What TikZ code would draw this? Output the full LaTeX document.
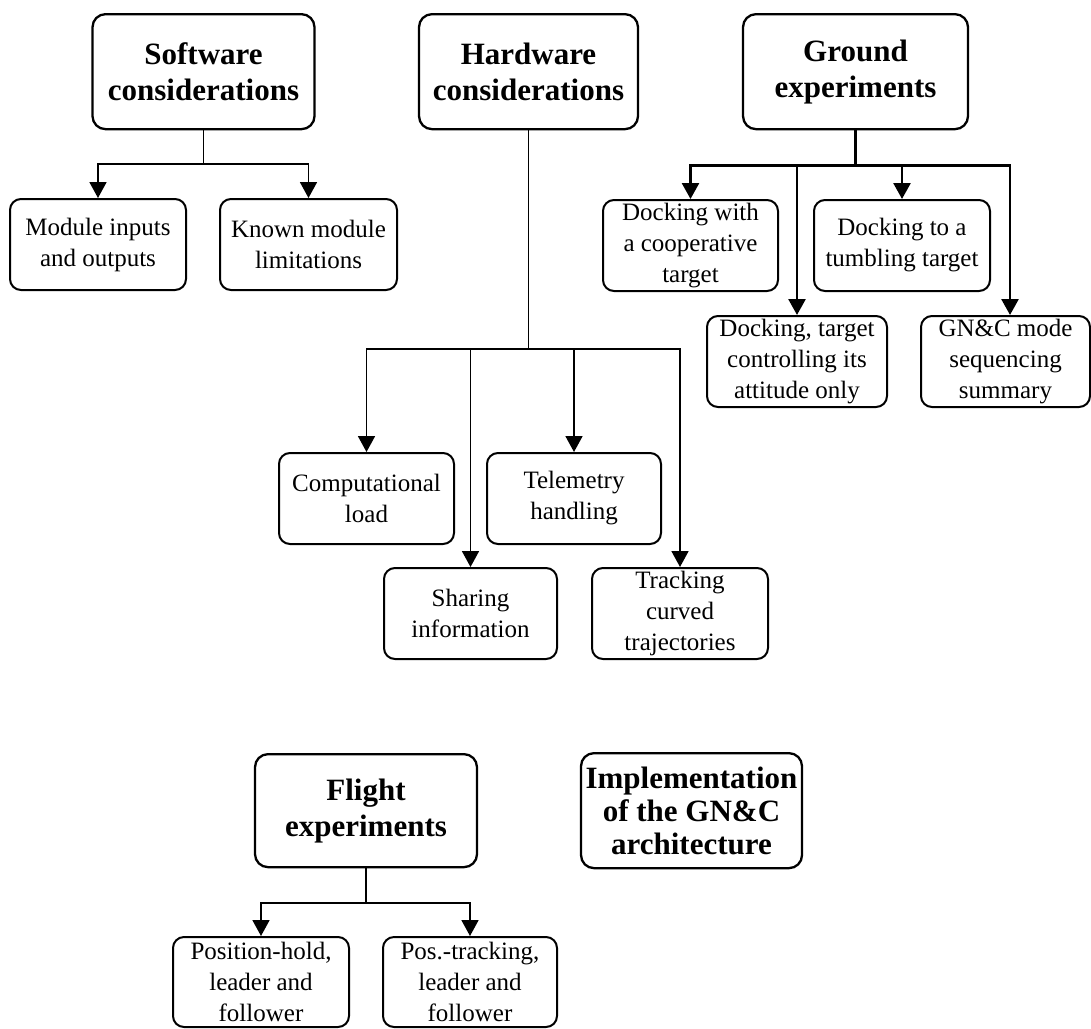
\documentclass[tikz,border=0pt]{standalone}
\usepackage{fontspec}
\setmainfont{Liberation Serif}
\usepackage{tikz}
\usetikzlibrary{positioning,arrows.meta}
\tikzstyle{head}=[rectangle, rounded corners=13pt, draw=black, line width=2.3pt, text centered, anchor=north, text=black, minimum width=222pt, minimum height=115pt, inner sep=2pt, align=center, font=\bfseries\fontsize{31}{36}\selectfont]
\tikzstyle{item}=[rectangle, rounded corners=11pt, draw=black, line width=2pt, text centered, anchor=north, text=black, minimum width=175pt, minimum height=91pt, inner sep=2pt, align=center, font=\fontsize{25}{31}\selectfont]
\tikzstyle{link}=[draw=black, line width=1.8pt, -{Triangle[length=16pt,width=17pt]}]

\begin{document}
\begin{tikzpicture}[x=1pt,y=1pt]
        \useasboundingbox (0,0) rectangle (1091,-1028);
        % top row
        \node(sw)[head] at (203.5,-13) {
            Software\\considerations
        };
        \node(hw)[head, minimum width=219pt] at (528.5,-13) {
            Hardware\\considerations
        };
        \node(gr)[head, minimum width=225pt] at (855.5,-13) {
            Ground\\experiments
        };
        % software
        \node(mod)[item, minimum width=176pt] at (98,-198) {
            Module inputs\\and outputs
        };
        \node(lim)[item, minimum width=177pt] at (308.5,-198) {
            Known module\\limitations
        };
        % ground
        \node(coop)[item] at (690.5,-199) {
            Docking with\\a cooperative\\target
        };
        \node(tumb)[item, minimum width=176pt] at (902,-199) {
            Docking to a\\tumbling target
        };
        \node(att)[item, minimum width=180pt] at (797,-315) {
            Docking, target\\controlling its\\attitude only
        };
        \node(seq)[item, minimum width=169pt] at (1005.5,-315) {
            GN\&C mode\\sequencing\\summary
        };
        % hardware
        \node(comp)[item] at (366.5,-452) {
            Computational\\load
        };
        \node(tel)[item, minimum width=174pt] at (574,-452) {
            Telemetry\\handling
        };
        \node(share)[item, minimum width=173pt] at (470.5,-567) {
            Sharing\\information
        };
        \node(track)[item, minimum width=176pt] at (680,-567) {
            Tracking\\curved\\trajectories
        };
        % bottom row
        \node(fl)[head, minimum height=113pt] at (366,-753) {
            Flight\\experiments
        };
        \node(impl)[head, minimum width=221pt, font=\bfseries\fontsize{31}{33}\selectfont] at (691.5,-752) {
            Implementation\\of the GN\&C\\architecture
        };
        \node(hold)[item, minimum width=176pt, minimum height=90pt] at (261,-936) {
            Position-hold,\\leader and\\follower
        };
        \node(trk)[item, minimum width=174pt, minimum height=90pt] at (470,-936) {
            Pos.-tracking,\\leader and\\follower
        };

        % connectors
        \foreach \c in {mod,lim}
            \draw[link] (sw.south) -- ++(0,-34) -| (\c.north);
        \foreach \c in {comp,share,tel,track}
            \draw[link] (hw.south) -- ++(0,-219) -| (\c.north);
        \foreach \c in {coop,att,tumb}
            \draw[link, line width=2.6pt] (gr.south) -- ++(0,-35) -| (\c.north);
        \draw[link, line width=2.6pt] (gr.south) -- ++(0,-35) -| ([xshift=4.5pt]seq.north);
        \foreach \c in {hold,trk}
            \draw[link] (fl.south) -- ++(0,-35) -| (\c.north);
\end{tikzpicture}
\end{document}
